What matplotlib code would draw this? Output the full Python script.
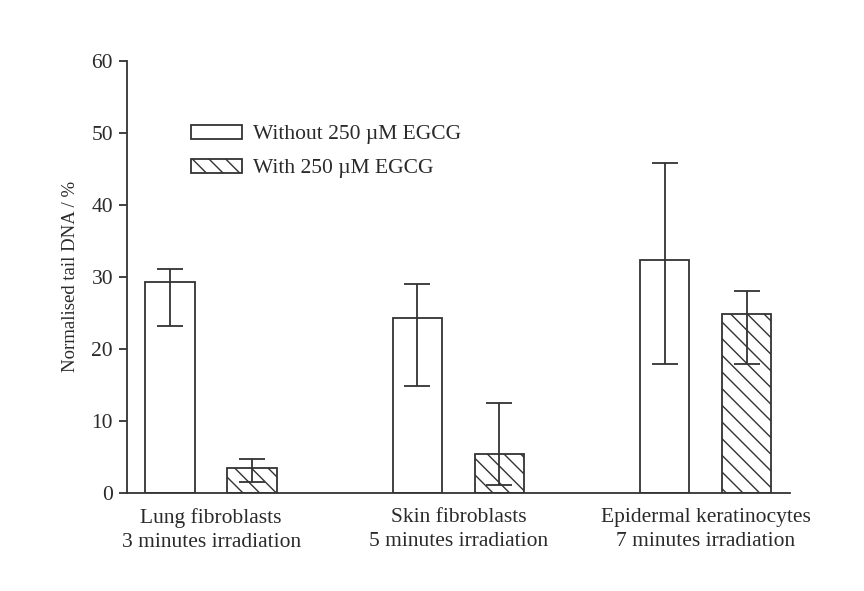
import matplotlib
matplotlib.use("Agg")
import matplotlib.pyplot as plt
import numpy as np

# values (mean with asymmetric error limits)
groups = ["Lung fibroblasts\n3 minutes irradiation",
          "Skin fibroblasts\n5 minutes irradiation",
          "Epidermal keratinocytes\n7 minutes irradiation"]
without_egcg = [29.3, 24.3, 32.4]
without_hi = [31.1, 29.0, 45.8]
without_lo = [23.2, 14.9, 17.9]
with_egcg = [3.5, 5.4, 24.9]
with_hi = [4.7, 12.5, 28.1]
with_lo = [1.5, 1.1, 17.9]

plt.rcParams["font.family"] = ["Liberation Serif", "DejaVu Serif"]
plt.rcParams["hatch.linewidth"] = 1.0
plt.rcParams["hatch.color"] = "#333333"

ink = "#333333"
txt = "#2a2a2a"
fig = plt.figure(figsize=(8.64, 5.91), dpi=100)
ax = fig.add_axes([0.147, 0.166, 0.767, 0.731])

x = np.arange(len(groups))
w = 0.2
off = 0.166


def err(vals, lo, hi):
    vals = np.array(vals)
    return [vals - np.array(lo), np.array(hi) - vals]


ax.bar(x - off, without_egcg, w, facecolor="white", edgecolor=ink, linewidth=1.3,
       label="Without 250 \u00b5M EGCG", zorder=2)
ax.bar(x + off, with_egcg, w, facecolor="white", edgecolor=ink, linewidth=1.3,
       hatch="\\\\", label="With 250 \u00b5M EGCG", zorder=2)
ax.errorbar(x - off, without_egcg, yerr=err(without_egcg, without_lo, without_hi),
            fmt="none", ecolor=ink, elinewidth=1.3, capsize=9.5, capthick=1.3, zorder=3)
ax.errorbar(x + off, with_egcg, yerr=err(with_egcg, with_lo, with_hi),
            fmt="none", ecolor=ink, elinewidth=1.3, capsize=9.5, capthick=1.3, zorder=3)

ax.set_xlim(-0.34, 2.34)
ax.set_ylim(0, 60)
ax.set_yticks(range(0, 61, 10))
ax.set_xticks(x)
ax.set_xticklabels(groups, fontsize=15.5, linespacing=1.35)
ax.tick_params(axis="x", length=0, pad=11, colors=txt)
ax.tick_params(axis="y", length=6, width=1.3, color=ink, labelsize=15.5,
               labelcolor=txt, pad=4)
ax.set_ylabel("Normalised tail DNA / %", fontsize=13.5, color=txt, labelpad=9)

for s in ["top", "right"]:
    ax.spines[s].set_visible(False)
for s in ["left", "bottom"]:
    ax.spines[s].set_color(ink)
    ax.spines[s].set_linewidth(1.3)

leg = ax.legend(loc="upper left", bbox_to_anchor=(191 / 864, 1 - 125 / 591),
                bbox_transform=fig.transFigure, frameon=False, fontsize=15.5,
                handlelength=2.37, handleheight=0.6, handletextpad=0.5,
                labelspacing=0.68, borderpad=0, borderaxespad=0)
for t in leg.get_texts():
    t.set_color(txt)

fig.savefig("out.png", dpi=100)
